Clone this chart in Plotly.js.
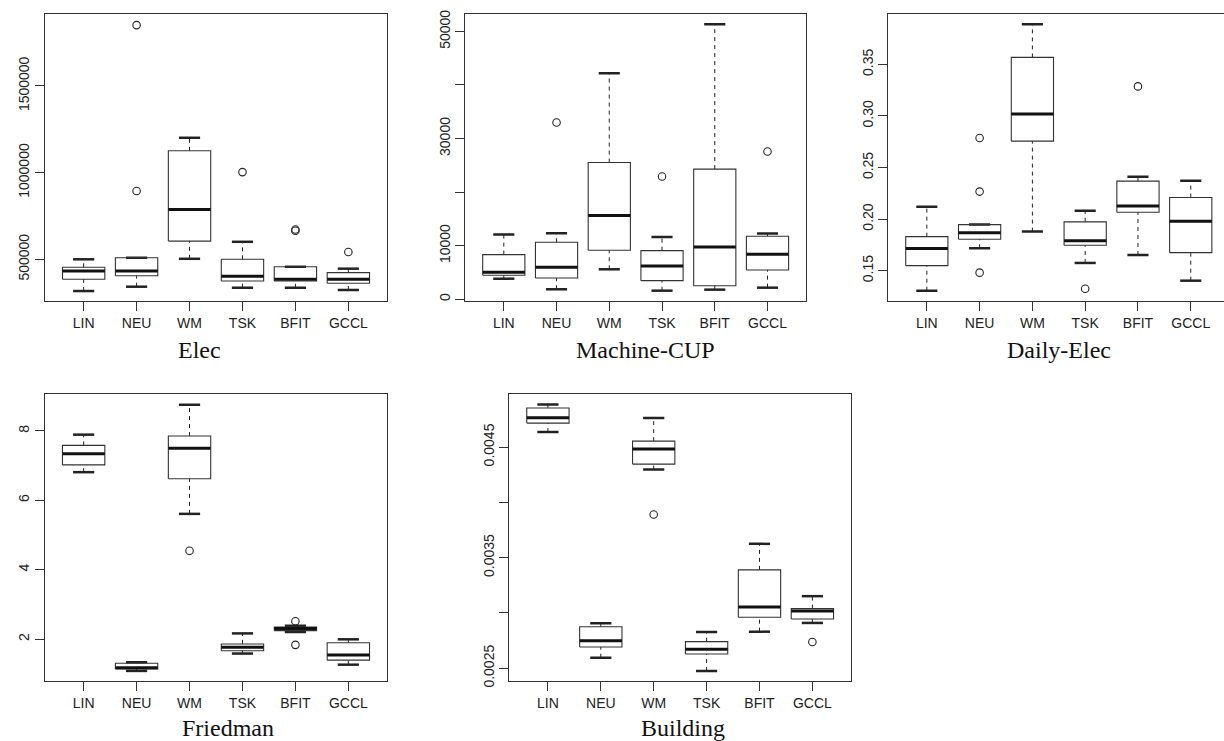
<!DOCTYPE html>
<html>
<head>
<meta charset="utf-8">
<script src="https://cdn.plot.ly/plotly-3.0.1.min.js"></script>
<style>html,body{margin:0;padding:0;background:#fff;}#chart{width:1224px;height:741px;}</style>
</head>
<body>
<div id="chart"></div>
<script>
// ---------- data ----------
const categories = ['LIN', 'NEU', 'WM', 'TSK', 'BFIT', 'GCCL'];
const panelTitles = ['Elec', 'Machine-CUP', 'Daily-Elec', 'Friedman', 'Building'];

// Elec
const elecLower  = [317000, 342000, 503000, 336000, 336000, 323000];
const elecQ1     = [385000, 405000, 605000, 375000, 375000, 362000];
const elecMedian = [432000, 432000, 788000, 402000, 385000, 385000];
const elecQ3     = [454000, 509000, 1126000, 500000, 457000, 423000];
const elecUpper  = [500000, 509000, 1201000, 601000, 457000, 446000];
const elecOutCat = ['NEU', 'NEU', 'TSK', 'BFIT', 'BFIT', 'GCCL'];
const elecOutVal = [894000, 1851000, 1003000, 665000, 672000, 542000];
const elecTicks  = [500000, 1000000, 1500000];
const elecTickText = ['500000', '1000000', '1500000'];

// Machine-CUP
const cupLower  = [3850, 1870, 5600, 1610, 1800, 2170];
const cupQ1     = [4490, 3980, 9160, 3480, 2540, 5480];
const cupMedian = [5050, 5980, 15630, 6220, 9780, 8410];
const cupQ3     = [8340, 10650, 25530, 9080, 24300, 11780];
const cupUpper  = [12080, 12340, 42170, 11640, 51330, 12260];
const cupOutCat = ['NEU', 'TSK', 'GCCL'];
const cupOutVal = [33010, 22920, 27590];
const cupTicks  = [0, 10000, 20000, 30000, 40000, 50000];
const cupTickText = ['0', '10000', '', '30000', '', '50000'];

// Daily-Elec
const dailyLower  = [0.1306, 0.1717, 0.1879, 0.1575, 0.1652, 0.1403];
const dailyQ1     = [0.1549, 0.1805, 0.2756, 0.1747, 0.2067, 0.1675];
const dailyMedian = [0.1714, 0.1869, 0.3019, 0.1791, 0.2128, 0.1980];
const dailyQ3     = [0.1830, 0.1947, 0.3568, 0.1973, 0.2368, 0.2209];
const dailyUpper  = [0.2121, 0.1947, 0.3889, 0.2080, 0.2410, 0.2371];
const dailyOutCat = ['NEU', 'NEU', 'NEU', 'TSK', 'BFIT'];
const dailyOutVal = [0.2786, 0.2267, 0.1481, 0.1325, 0.3287];
const dailyTicks  = [0.15, 0.20, 0.25, 0.30, 0.35];
const dailyTickText = ['0.15', '0.20', '0.25', '0.30', '0.35'];

// Friedman
const friedLower  = [6.81, 1.09, 5.61, 1.59, 2.21, 1.27];
const friedQ1     = [7.02, 1.145, 6.62, 1.67, 2.25, 1.40];
const friedMedian = [7.34, 1.18, 7.50, 1.77, 2.31, 1.55];
const friedQ3     = [7.58, 1.31, 7.85, 1.865, 2.35, 1.90];
const friedUpper  = [7.89, 1.34, 8.75, 2.17, 2.39, 2.00];
const friedOutCat = ['WM', 'BFIT', 'BFIT'];
const friedOutVal = [4.55, 2.52, 1.84];
const friedTicks  = [2, 4, 6, 8];
const friedTickText = ['2', '4', '6', '8'];

// Building
const buildLower  = [0.004636, 0.002596, 0.004297, 0.002476, 0.002831, 0.002910];
const buildQ1     = [0.004717, 0.002693, 0.004346, 0.002629, 0.002962, 0.002946];
const buildMedian = [0.004765, 0.002750, 0.004482, 0.002672, 0.003055, 0.003019];
const buildQ3     = [0.004853, 0.002876, 0.004554, 0.002741, 0.003390, 0.003039];
const buildUpper  = [0.004886, 0.002907, 0.004763, 0.002829, 0.003625, 0.003152];
const buildOutCat = ['WM', 'GCCL'];
const buildOutVal = [0.003890, 0.002738];
const buildTicks  = [0.0025, 0.0030, 0.0035, 0.0040, 0.0045];
const buildTickText = ['0.0025', '', '0.0035', '', '0.0045'];

// ---------- drawing ----------
const BOX_HALF = 0.4, CAP_HALF = 0.2;
const INK = '#222';

function boxTraces(n, lower, q1, med, q3, upper, outCat, outVal) {
  const xa = 'x' + (n === 1 ? '' : n), ya = 'y' + (n === 1 ? '' : n);
  const bx = [], by = [], mx = [], my = [], wx = [], wy = [], cx = [], cy = [];
  categories.forEach((c, i) => {
    const p = i + 1;
    bx.push(p - BOX_HALF, p + BOX_HALF, p + BOX_HALF, p - BOX_HALF, p - BOX_HALF, null);
    by.push(q1[i], q1[i], q3[i], q3[i], q1[i], null);
    mx.push(p - BOX_HALF, p + BOX_HALF, null);
    my.push(med[i], med[i], null);
    wx.push(p, p, null, p, p, null);
    wy.push(q3[i], upper[i], null, lower[i], q1[i], null);
    cx.push(p - CAP_HALF, p + CAP_HALF, null, p - CAP_HALF, p + CAP_HALF, null);
    cy.push(upper[i], upper[i], null, lower[i], lower[i], null);
  });
  const base = {type: 'scatter', mode: 'lines', xaxis: xa, yaxis: ya, hoverinfo: 'skip', showlegend: false, connectgaps: false};
  return [
    Object.assign({}, base, {x: wx, y: wy, line: {color: INK, width: 1, dash: '4px,4px'}}),
    Object.assign({}, base, {x: cx, y: cy, line: {color: INK, width: 2.5}}),
    Object.assign({}, base, {x: bx, y: by, line: {color: '#333', width: 1.1}}),
    Object.assign({}, base, {x: mx, y: my, line: {color: '#111', width: 3}}),
    {type: 'scatter', mode: 'markers', xaxis: xa, yaxis: ya, hoverinfo: 'skip', showlegend: false,
     x: outCat.map(c => categories.indexOf(c) + 1), y: outVal,
     marker: {symbol: 'circle-open', size: 7.5, color: INK, line: {width: 1.1, color: INK}}}
  ];
}

const traces = [].concat(
  boxTraces(1, elecLower, elecQ1, elecMedian, elecQ3, elecUpper, elecOutCat, elecOutVal),
  boxTraces(2, cupLower, cupQ1, cupMedian, cupQ3, cupUpper, cupOutCat, cupOutVal),
  boxTraces(3, dailyLower, dailyQ1, dailyMedian, dailyQ3, dailyUpper, dailyOutCat, dailyOutVal),
  boxTraces(4, friedLower, friedQ1, friedMedian, friedQ3, friedUpper, friedOutCat, friedOutVal),
  boxTraces(5, buildLower, buildQ1, buildMedian, buildQ3, buildUpper, buildOutCat, buildOutVal)
);

const W = 1224, H = 741;
const tickFont = {family: 'Liberation Sans, Arial, sans-serif', size: 14, color: '#222'};
function xAxis(n, x0, x1, xmax) {
  return {anchor: 'y' + (n === 1 ? '' : n), domain: [x0 / W, x1 / W], range: [0.27, xmax],
    tickvals: categories.map((c, i) => i + 1), ticktext: categories,
    ticks: 'outside', ticklen: 9, tickwidth: 1, tickcolor: '#333', showline: true, mirror: true, linecolor: '#333', linewidth: 1,
    showgrid: false, zeroline: false, tickfont: tickFont, fixedrange: true};
}
function yAxis(n, y0, y1, range, tv, tt) {
  return {anchor: 'x' + (n === 1 ? '' : n), domain: [1 - y1 / H, 1 - y0 / H], range: range, tickvals: tv, ticktext: tt, tickangle: -90,
    ticks: 'outside', ticklen: 9, tickwidth: 1, tickcolor: '#333', showline: true, mirror: true, linecolor: '#333', linewidth: 1,
    showgrid: false, zeroline: false, tickfont: tickFont, fixedrange: true};
}

const titleFont = {family: 'Liberation Serif, Times New Roman, serif', size: 24, color: '#111'};
const titlePos = [[199, 350], [645, 350], [1059, 350], [228, 728], [683, 728]];
const annotations = panelTitles.map((t, i) => ({
  text: t, xref: 'paper', yref: 'paper', x: titlePos[i][0] / W, y: 1 - titlePos[i][1] / H,
  xanchor: 'center', yanchor: 'middle', showarrow: false, font: titleFont
}));

const layout = {
  width: W, height: H, margin: {l: 0, r: 0, t: 0, b: 0},
  paper_bgcolor: '#fff', plot_bgcolor: '#fff', showlegend: false, hovermode: false,
  xaxis: xAxis(1, 45, 387, 6.73),
  yaxis: yAxis(1, 14, 301, [259500, 1915000], elecTicks, elecTickText),
  xaxis2: xAxis(2, 465.3, 806, 6.73),
  yaxis2: yAxis(2, 14, 301, [-318, 53250], cupTicks, cupTickText),
  xaxis3: xAxis(3, 888.3, 1224, 6.63),
  yaxis3: yAxis(3, 14, 301, [0.1206, 0.3989], dailyTicks, dailyTickText),
  xaxis4: xAxis(4, 45, 387, 6.73),
  yaxis4: yAxis(4, 394, 681, [0.80, 9.06], friedTicks, friedTickText),
  xaxis5: xAxis(5, 509.3, 851, 6.73),
  yaxis5: yAxis(5, 394, 681, [0.002385, 0.00498], buildTicks, buildTickText),
  annotations: annotations
};

Plotly.newPlot('chart', traces, layout, {staticPlot: true, displayModeBar: false});
</script>
</body>
</html>
